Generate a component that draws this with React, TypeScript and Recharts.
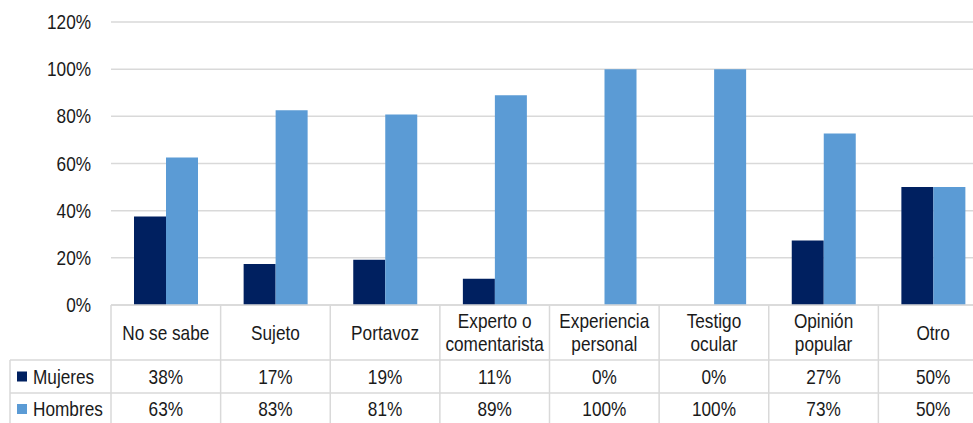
import React from "react"
import { BarChart, Bar, XAxis, YAxis, CartesianGrid } from "recharts"

const categories = [
  "No se sabe",
  "Sujeto",
  "Portavoz",
  "Experto o\ncomentarista",
  "Experiencia\npersonal",
  "Testigo\nocular",
  "Opinión\npopular",
  "Otro",
]
const mujeres = [37.5, 17.4, 19.2, 11.1, 0, 0, 27.3, 50]
const hombres = [62.5, 82.6, 80.8, 88.9, 100, 100, 72.7, 50]
const yTicks = [0, 20, 40, 60, 80, 100, 120]

const series = [
  { key: "mujeres", name: "Mujeres", color: "#002060", values: mujeres },
  { key: "hombres", name: "Hombres", color: "#5B9BD5", values: hombres },
]

const CHART_W = 990
const CHART_H = 423
const PLOT_LEFT = 111
const PLOT_RIGHT = 988
const FONT = "'Liberation Sans', Arial, sans-serif"
const TEXT = "#1a1a1a"
const LINE = "#d9d9d9"
const SQUEEZE = 0.82 // the original uses a narrow Arial

const data = categories.map((name, i) => ({
  name,
  mujeres: mujeres[i],
  hombres: hombres[i],
}))

const bandWidth = (PLOT_RIGHT - PLOT_LEFT) / categories.length

// rows of the data table under the axis
const ROW1 = 360
const ROW2 = 393

function NarrowText({ x, y, anchor = "middle", children }: any) {
  return (
    <text
      transform={`translate(${x},${y}) scale(${SQUEEZE},1)`}
      textAnchor={anchor}
      dominantBaseline="central"
      fontSize={21}
      fontFamily={FONT}
      fill={TEXT}
    >
      {children}
    </text>
  )
}

function YTick(props: any) {
  const { x, y, payload } = props
  return (
    <NarrowText x={x} y={y} anchor="end">
      {`${payload.value}%`}
    </NarrowText>
  )
}

function TableTick(props: any) {
  const { x, y, payload, index } = props
  const left = x - bandWidth / 2
  const right = x + bandWidth / 2
  const lines = String(payload.value).split("\n")
  const labelMid = (y + ROW1) / 2
  const lineH = 23
  const rowMid = [(ROW1 + ROW2) / 2, (ROW2 + CHART_H) / 2 + 1]
  return (
    <g>
      <line x1={left} x2={left} y1={y} y2={CHART_H} stroke={LINE} strokeWidth={1.5} />
      <line x1={left} x2={right} y1={ROW1} y2={ROW1} stroke={LINE} strokeWidth={1.5} />
      <line x1={left} x2={right} y1={ROW2} y2={ROW2} stroke={LINE} strokeWidth={1.5} />
      {lines.map((ln, i) => (
        <NarrowText key={i} x={x} y={labelMid + (i - (lines.length - 1) / 2) * lineH}>
          {ln}
        </NarrowText>
      ))}
      {series.map((s, r) => (
        <NarrowText key={s.key} x={x} y={rowMid[r]}>
          {`${Math.round(s.values[index])}%`}
        </NarrowText>
      ))}
      {index === 0 && (
        <g>
          <line x1={10} x2={left} y1={ROW1} y2={ROW1} stroke={LINE} strokeWidth={1.5} />
          <line x1={10} x2={left} y1={ROW2} y2={ROW2} stroke={LINE} strokeWidth={1.5} />
          <line x1={10} x2={10} y1={ROW1} y2={CHART_H} stroke={LINE} strokeWidth={1.5} />
          {series.map((s, r) => (
            <g key={s.key}>
              <rect x={17} y={rowMid[r] - 5} width={10} height={10} fill={s.color} />
              <NarrowText x={33} y={rowMid[r]} anchor="start">
                {s.name}
              </NarrowText>
            </g>
          ))}
        </g>
      )}
    </g>
  )
}

export default function App() {
  return (
    <div
      style={{
        position: "absolute",
        left: 0,
        top: 0,
        width: 973,
        height: CHART_H,
        overflow: "hidden",
        background: "#fff",
      }}
    >
      <BarChart
        width={CHART_W}
        height={CHART_H}
        data={data}
        margin={{ top: 22, right: CHART_W - PLOT_RIGHT, bottom: 0, left: 0 }}
        barCategoryGap={23}
        barGap={0}
      >
        <CartesianGrid vertical={false} stroke={LINE} strokeWidth={1.5} />
        <XAxis
          dataKey="name"
          height={CHART_H - 305}
          axisLine={{ stroke: LINE, strokeWidth: 1.5 }}
          tickLine={false}
          tickSize={0}
          tickMargin={0}
          interval={0}
          tick={<TableTick />}
        />
        <YAxis
          width={PLOT_LEFT}
          domain={[0, 120]}
          ticks={yTicks}
          axisLine={false}
          tickLine={false}
          tickSize={6}
          tickMargin={14}
          tick={<YTick />}
        />
        {series.map((s) => (
          <Bar key={s.key} dataKey={s.key} name={s.name} fill={s.color} isAnimationActive={false} />
        ))}
      </BarChart>
    </div>
  )
}
